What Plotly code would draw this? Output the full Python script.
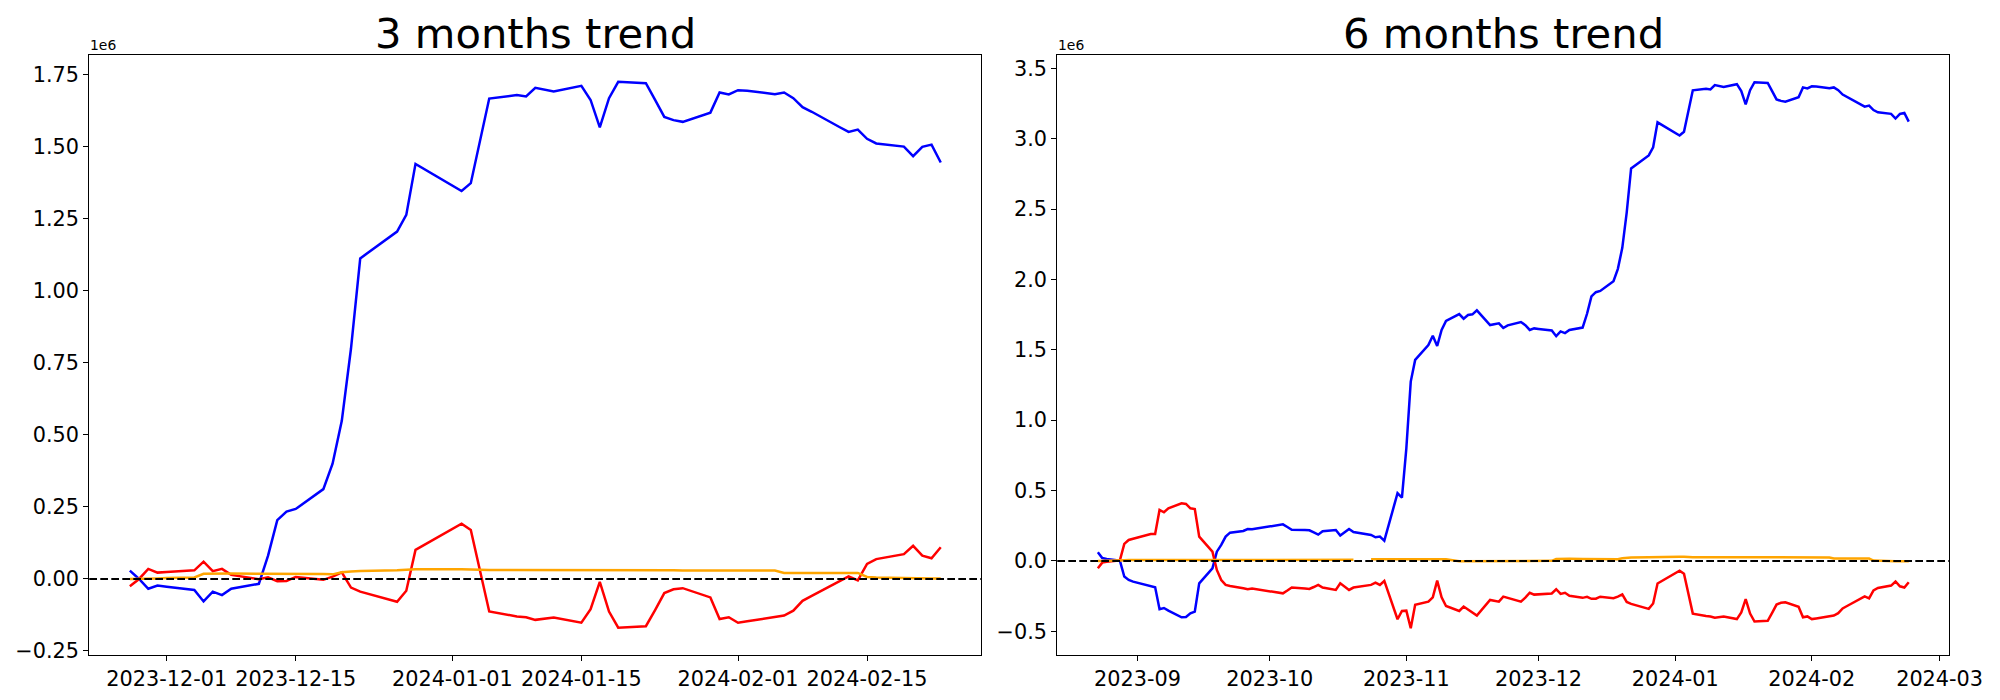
import plotly.graph_objects as go

# ---------------- 3 months data (values in units of 1e6) ----------------
dates_3m = [
    "2023-11-27", "2023-11-28", "2023-11-29", "2023-11-30", "2023-12-01",
    "2023-12-04", "2023-12-05", "2023-12-06", "2023-12-07", "2023-12-08",
    "2023-12-11", "2023-12-12", "2023-12-13", "2023-12-14", "2023-12-15",
    "2023-12-18", "2023-12-19", "2023-12-20", "2023-12-21", "2023-12-22",
    "2023-12-26", "2023-12-27", "2023-12-28",
    "2024-01-02", "2024-01-03", "2024-01-04", "2024-01-05",
    "2024-01-08", "2024-01-09", "2024-01-10", "2024-01-11", "2024-01-12",
    "2024-01-15", "2024-01-16", "2024-01-17", "2024-01-18", "2024-01-19",
    "2024-01-22", "2024-01-23", "2024-01-24", "2024-01-25", "2024-01-26",
    "2024-01-29", "2024-01-30", "2024-01-31", "2024-02-01", "2024-02-02",
    "2024-02-05", "2024-02-06", "2024-02-07", "2024-02-08", "2024-02-09",
    "2024-02-12", "2024-02-13", "2024-02-14", "2024-02-15", "2024-02-16",
    "2024-02-19", "2024-02-20", "2024-02-21", "2024-02-22", "2024-02-23",
]
blue_3m = [
    0.029, 0.000, -0.034, -0.023, -0.027,
    -0.038, -0.078, -0.044, -0.056, -0.034,
    -0.017, 0.081, 0.204, 0.234, 0.243,
    0.312, 0.400, 0.549, 0.800, 1.113,
    1.206, 1.264, 1.441,
    1.347, 1.374, 1.524, 1.668,
    1.680, 1.675, 1.705, 1.698, 1.692,
    1.712, 1.663, 1.568, 1.669, 1.726,
    1.721, 1.663, 1.604, 1.593, 1.587,
    1.619, 1.689, 1.682, 1.697, 1.695,
    1.683, 1.689, 1.669, 1.638, 1.622,
    1.569, 1.552, 1.560, 1.528, 1.512,
    1.501, 1.468, 1.500, 1.508, 1.446,
]
red_3m = [
    -0.025, 0.000, 0.035, 0.022, 0.024,
    0.030, 0.060, 0.027, 0.035, 0.014,
    -0.001, 0.006, -0.008, -0.007, 0.007,
    -0.003, 0.008, 0.023, -0.030, -0.044,
    -0.079, -0.041, 0.101,
    0.192, 0.170, 0.031, -0.113,
    -0.130, -0.133, -0.142, -0.137, -0.134,
    -0.152, -0.105, -0.010, -0.113, -0.169,
    -0.164, -0.108, -0.049, -0.036, -0.032,
    -0.064, -0.139, -0.133, -0.152, -0.147,
    -0.131, -0.127, -0.110, -0.076, -0.059,
    -0.009, 0.009, -0.005, 0.052, 0.069,
    0.086, 0.115, 0.081, 0.072, 0.110,
]
orange_3m = [
    0.000, 0.000, 0.001, 0.002, 0.003,
    0.005, 0.018, 0.019, 0.020, 0.019,
    0.018, 0.018, 0.019, 0.019, 0.019,
    0.017, 0.016, 0.023, 0.026, 0.028,
    0.030, 0.031, 0.034,
    0.034, 0.034, 0.032, 0.031,
    0.031, 0.031, 0.031, 0.031, 0.032,
    0.032, 0.032, 0.032, 0.032, 0.032,
    0.032, 0.031, 0.030, 0.030, 0.029,
    0.029, 0.029, 0.029, 0.030, 0.030,
    0.029, 0.021, 0.021, 0.021, 0.021,
    0.021, 0.021, 0.021, 0.007, 0.005,
    0.003, 0.002, 0.002, 0.002, 0.002,
]

# ---------------- 6 months data (values in units of 1e6) ----------------
dates_6m = [
    "2023-08-23", "2023-08-24", "2023-08-25", "2023-08-28", "2023-08-29",
    "2023-08-30", "2023-08-31", "2023-09-01", "2023-09-04", "2023-09-05",
    "2023-09-06", "2023-09-07", "2023-09-08", "2023-09-11", "2023-09-12",
    "2023-09-13", "2023-09-14", "2023-09-15", "2023-09-18", "2023-09-19",
    "2023-09-20", "2023-09-21", "2023-09-22", "2023-09-25", "2023-09-26",
    "2023-09-27", "2023-09-28", "2023-09-29", "2023-10-02", "2023-10-03",
    "2023-10-04", "2023-10-05", "2023-10-06", "2023-10-09", "2023-10-10",
    "2023-10-11", "2023-10-12", "2023-10-13", "2023-10-16", "2023-10-17",
    "2023-10-18", "2023-10-19", "2023-10-20", "2023-10-23", "2023-10-24",
    "2023-10-25", "2023-10-26", "2023-10-27", "2023-10-30", "2023-10-31",
    "2023-11-01", "2023-11-02", "2023-11-03", "2023-11-06", "2023-11-07",
    "2023-11-08", "2023-11-09", "2023-11-10", "2023-11-13", "2023-11-14",
    "2023-11-15", "2023-11-16", "2023-11-17", "2023-11-20", "2023-11-21",
    "2023-11-22", "2023-11-23", "2023-11-24", "2023-11-27",
    "2023-11-28", "2023-11-29", "2023-11-30", "2023-12-01",
    "2023-12-04", "2023-12-05", "2023-12-06", "2023-12-07", "2023-12-08",
    "2023-12-11", "2023-12-12", "2023-12-13", "2023-12-14", "2023-12-15",
    "2023-12-18", "2023-12-19", "2023-12-20", "2023-12-21", "2023-12-22",
    "2023-12-26", "2023-12-27", "2023-12-28",
    "2024-01-02", "2024-01-03", "2024-01-04", "2024-01-05",
    "2024-01-08", "2024-01-09", "2024-01-10", "2024-01-11", "2024-01-12",
    "2024-01-15", "2024-01-16", "2024-01-17", "2024-01-18", "2024-01-19",
    "2024-01-22", "2024-01-23", "2024-01-24", "2024-01-25", "2024-01-26",
    "2024-01-29", "2024-01-30", "2024-01-31", "2024-02-01", "2024-02-02",
    "2024-02-05", "2024-02-06", "2024-02-07", "2024-02-08", "2024-02-09",
    "2024-02-12", "2024-02-13", "2024-02-14", "2024-02-15", "2024-02-16",
    "2024-02-19", "2024-02-20", "2024-02-21", "2024-02-22", "2024-02-23",
]
blue_6m = [
    0.062, 0.021, 0.014, 0.002, -0.111,
    -0.135, -0.147, -0.156, -0.182, -0.187,
    -0.343, -0.334, -0.353, -0.400, -0.398,
    -0.372, -0.360, -0.159, -0.052, 0.066,
    0.114, 0.173, 0.201, 0.213, 0.227,
    0.225, 0.230, 0.235, 0.250, 0.255,
    0.260, 0.241, 0.222, 0.220, 0.218,
    0.203, 0.187, 0.211, 0.220, 0.180,
    0.203, 0.227, 0.206, 0.190, 0.185,
    0.168, 0.173, 0.144, 0.481, 0.450,
    0.800, 1.274, 1.428, 1.534, 1.600,
    1.527, 1.641, 1.705, 1.754, 1.721,
    1.747, 1.752, 1.780, 1.676, 1.682,
    1.688, 1.655, 1.674, 1.697,
    1.675, 1.641, 1.652, 1.648,
    1.637, 1.597, 1.631, 1.619, 1.641,
    1.658, 1.756, 1.879, 1.909, 1.918,
    1.987, 2.075, 2.224, 2.475, 2.788,
    2.881, 2.939, 3.116,
    3.022, 3.049, 3.199, 3.343,
    3.355, 3.350, 3.380, 3.373, 3.367,
    3.387, 3.338, 3.243, 3.344, 3.401,
    3.396, 3.338, 3.279, 3.268, 3.262,
    3.294, 3.364, 3.357, 3.372, 3.370,
    3.358, 3.364, 3.344, 3.313, 3.297,
    3.244, 3.227, 3.235, 3.203, 3.187,
    3.176, 3.143, 3.175, 3.183, 3.121,
]
red_6m = [
    -0.052, -0.012, -0.005, 0.004, 0.121,
    0.149, 0.158, 0.166, 0.192, 0.192,
    0.362, 0.346, 0.374, 0.410, 0.405,
    0.374, 0.369, 0.173, 0.066, -0.064,
    -0.135, -0.170, -0.178, -0.194, -0.201,
    -0.196, -0.201, -0.206, -0.220, -0.225,
    -0.230, -0.210, -0.189, -0.195, -0.199,
    -0.185, -0.170, -0.189, -0.206, -0.159,
    -0.183, -0.206, -0.189, -0.175, -0.170,
    -0.154, -0.170, -0.142, -0.414, -0.355,
    -0.353, -0.478, -0.312, -0.289, -0.258,
    -0.140, -0.258, -0.320, -0.355, -0.324,
    -0.346, -0.362, -0.388, -0.277, -0.282,
    -0.289, -0.253, -0.263, -0.289,
    -0.261, -0.226, -0.239, -0.237,
    -0.231, -0.201, -0.234, -0.226, -0.247,
    -0.262, -0.255, -0.269, -0.268, -0.254,
    -0.264, -0.253, -0.238, -0.291, -0.305,
    -0.340, -0.302, -0.160,
    -0.069, -0.091, -0.230, -0.374,
    -0.391, -0.394, -0.403, -0.398, -0.395,
    -0.413, -0.366, -0.271, -0.374, -0.430,
    -0.425, -0.369, -0.310, -0.297, -0.293,
    -0.325, -0.400, -0.394, -0.413, -0.408,
    -0.392, -0.388, -0.371, -0.337, -0.320,
    -0.270, -0.252, -0.266, -0.209, -0.192,
    -0.175, -0.146, -0.180, -0.189, -0.151,
]
orange_6m = [
    0.000, 0.000, 0.000, 0.000, 0.005,
    0.006, 0.006, 0.007, 0.007, 0.007,
    0.008, 0.008, 0.008, 0.008, 0.008,
    0.008, 0.008, 0.008, 0.008, 0.008,
    0.008, 0.008, 0.008, 0.008, 0.008,
    0.007, 0.007, 0.007, 0.006, 0.006,
    0.006, 0.006, 0.006, 0.007, 0.007,
    0.008, 0.008, 0.008, 0.008, 0.008,
    0.008, 0.008, 0.008, None, 0.012,
    0.012, 0.012, 0.012, 0.012, 0.012,
    0.012, 0.012, 0.013, 0.013, 0.013,
    0.013, 0.012, 0.012, -0.002, -0.002,
    -0.002, -0.002, -0.002, -0.002, -0.002,
    -0.002, -0.002, -0.002, -0.003,
    -0.004, -0.003, -0.002, -0.001,
    0.001, 0.014, 0.015, 0.016, 0.015,
    0.014, 0.014, 0.015, 0.015, 0.015,
    0.013, 0.012, 0.019, 0.022, 0.024,
    0.026, 0.027, 0.030,
    0.030, 0.030, 0.028, 0.027,
    0.027, 0.027, 0.027, 0.027, 0.028,
    0.028, 0.028, 0.028, 0.028, 0.028,
    0.028, 0.027, 0.026, 0.026, 0.025,
    0.025, 0.025, 0.025, 0.026, 0.026,
    0.025, 0.017, 0.017, 0.017, 0.017,
    0.017, 0.017, 0.017, 0.003, 0.001,
    -0.001, -0.002, -0.002, -0.002, -0.002,
]

# ---------------- tick labels ----------------
xticks_3m = ["2023-12-01", "2023-12-15", "2024-01-01", "2024-01-15", "2024-02-01", "2024-02-15"]
xticks_6m = ["2023-09-01", "2023-10-01", "2023-11-01", "2023-12-01", "2024-01-01", "2024-02-01", "2024-03-01"]
xticklabels_6m = ["2023-09", "2023-10", "2023-11", "2023-12", "2024-01", "2024-02", "2024-03"]
yticks_3m = [-0.25, 0.0, 0.25, 0.5, 0.75, 1.0, 1.25, 1.5, 1.75]
yticklabels_3m = ["\u22120.25", "0.00", "0.25", "0.50", "0.75", "1.00", "1.25", "1.50", "1.75"]
yticks_6m = [-0.5, 0.0, 0.5, 1.0, 1.5, 2.0, 2.5, 3.0, 3.5]
yticklabels_6m = ["\u22120.5", "0.0", "0.5", "1.0", "1.5", "2.0", "2.5", "3.0", "3.5"]
titles = ["3 months trend", "6 months trend"]
scale_label = "1e6"

# ---------------- figure ----------------
W, H = 2000, 700
FONT = "DejaVu Sans"
LW = 2.5

fig = go.Figure()
for xs, ys, col in [(dates_3m, blue_3m, "blue"), (dates_3m, red_3m, "red"), (dates_3m, orange_3m, "orange")]:
    fig.add_trace(go.Scatter(x=xs, y=ys, mode="lines", line=dict(color=col, width=LW),
                             xaxis="x", yaxis="y", showlegend=False, connectgaps=False))
for xs, ys, col in [(dates_6m, blue_6m, "blue"), (dates_6m, red_6m, "red"), (dates_6m, orange_6m, "orange")]:
    fig.add_trace(go.Scatter(x=xs, y=ys, mode="lines", line=dict(color=col, width=LW),
                             xaxis="x2", yaxis="y2", showlegend=False, connectgaps=False))

# axes pixel geometry
L1, R1 = 89.3, 981.3
L2, R2 = 1057.3, 1949.3
TOP, BOT = 55.3, 655.0
yd = [(H - BOT) / H, (H - TOP) / H]

axis_common = dict(showline=True, linecolor="black", linewidth=1.1, mirror=True,
                   ticks="outside", ticklen=5, tickwidth=1.1, tickcolor="black",
                   showgrid=False, zeroline=False, automargin=False,
                   tickfont=dict(family=FONT, size=20.8, color="black"))

fig.update_layout(
    template="none",
    width=W, height=H, autosize=False,
    margin=dict(l=0, r=0, t=0, b=0, pad=0, autoexpand=False),
    paper_bgcolor="white", plot_bgcolor="white",
    font=dict(family=FONT, color="black"),
    xaxis=dict(domain=[L1 / W, R1 / W], anchor="y", type="date",
               range=["2023-11-22 14:24", "2024-02-27 09:36"],
               tickvals=xticks_3m, ticktext=xticks_3m, **axis_common),
    yaxis=dict(domain=yd, anchor="x", range=[-0.264, 1.818],
               tickvals=yticks_3m, ticktext=yticklabels_3m, **axis_common),
    xaxis2=dict(domain=[L2 / W, R2 / W], anchor="y2", type="date",
                range=["2023-08-13 19:12", "2024-03-03 04:48"],
                tickvals=xticks_6m, ticktext=xticklabels_6m, **axis_common),
    yaxis2=dict(domain=yd, anchor="x2", range=[-0.668, 3.592],
                tickvals=yticks_6m, ticktext=yticklabels_6m, **axis_common),
)

# horizontal dashed zero lines
for xr, yr in [("x domain", "y"), ("x2 domain", "y2")]:
    fig.add_shape(type="line", xref=xr, x0=0, x1=1, yref=yr, y0=0, y1=0,
                  line=dict(color="black", width=2.1, dash="7.7px,3.3px"), layer="above")

# titles and offset labels
for (l, r), t in zip([(L1, R1), (L2, R2)], titles):
    fig.add_annotation(xref="paper", yref="paper", x=(l + r) / 2 / W, y=(H - 33) / H,
                       text=t, showarrow=False, xanchor="center", yanchor="middle",
                       font=dict(family=FONT, size=41.7, color="black"))
    fig.add_annotation(xref="paper", yref="paper", x=l / W, y=(H - 54) / H,
                       text=scale_label, showarrow=False, xanchor="left", yanchor="bottom",
                       font=dict(family=FONT, size=13.9, color="black"), borderpad=0)

post = (
    "document.body.style.margin='0';"
    "document.body.style.overflow='hidden';"
)
fig.write_html(
    "out.html",
    config={"responsive": False, "displayModeBar": False},
    post_script=post,
)
